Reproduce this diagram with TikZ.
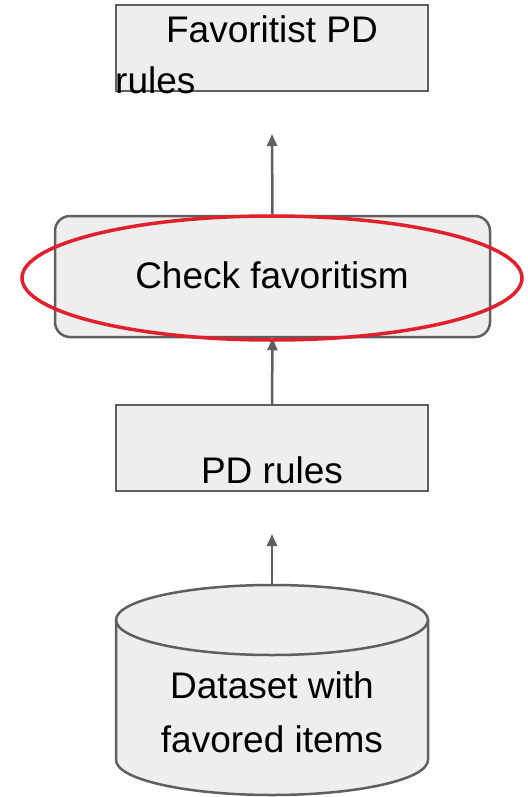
\documentclass[tikz,border=0pt]{standalone}
\usepackage{fontspec}
\setmainfont{Liberation Sans}
\usetikzlibrary{arrows.meta,shapes.geometric}
\definecolor{boxgrey}{HTML}{EEEEEE}
\definecolor{linegrey}{HTML}{5F5F5F}
\definecolor{ringred}{HTML}{E0202B}

\begin{document}
\begin{tikzpicture}[x=1pt,y=-1pt,font=\fontsize{37}{44}\selectfont]
  \useasboundingbox (0,0) rectangle (527,797);

        \begin{scope}[every node/.style={draw=linegrey,fill=boxgrey,line width=2.5pt,inner sep=0pt}]
          \node[minimum width=312pt,minimum height=86pt] (fav) at (272,48) {};
          \node[rounded corners=15pt,minimum width=435pt,minimum height=121pt] (check) at (272.5,276.5) {};
          \node[minimum width=312pt,minimum height=86pt] (pd) at (272,448) {};
        \end{scope}

        % cylinder
        \fill[boxgrey] (116,620) -- (116,760) arc[start angle=180,end angle=0,x radius=156,y radius=35]
          -- (428,620) arc[start angle=0,end angle=-180,x radius=156,y radius=35] -- cycle;
        \draw[linegrey,line width=2.5pt] (116,620) -- (116,760)
          arc[start angle=180,end angle=0,x radius=156,y radius=35] -- (428,620);
        \draw[linegrey,line width=2.5pt] (272,620) ellipse[x radius=156,y radius=35];
        \coordinate (data) at (272,585);

        \begin{scope}[every node/.style={inner sep=0pt,anchor=base}]
          \node (favtxt) at (272,43) {Favoritist PD};
          \node[anchor=base west] (favtxt2) at (115,94) {rules};
          \node (checktxt) at (272,288) {Check favoritism};
          \node (pdtxt) at (272,483) {PD rules};
          \node (datatxt) at (272,698) {Dataset with};
          \node (datatxt2) at (272,752) {favored items};
        \end{scope}

        \coordinate (favtip) at (272,134);
        \coordinate (pdtip) at (272,534);

        \begin{scope}[every edge/.style={draw=linegrey,line width=2.5pt,-{Triangle[length=12pt,width=10pt]}}]
          \path (check.north) edge (favtip);
          \path (pd.north) edge (check.south);
          \path (data) edge (pdtip);
        \end{scope}

        \node[ellipse,draw=ringred,line width=3.5pt,inner sep=0pt,minimum width=500pt,minimum height=124pt] (ring) at (272,278) {};

      \end{tikzpicture}
\end{document}
